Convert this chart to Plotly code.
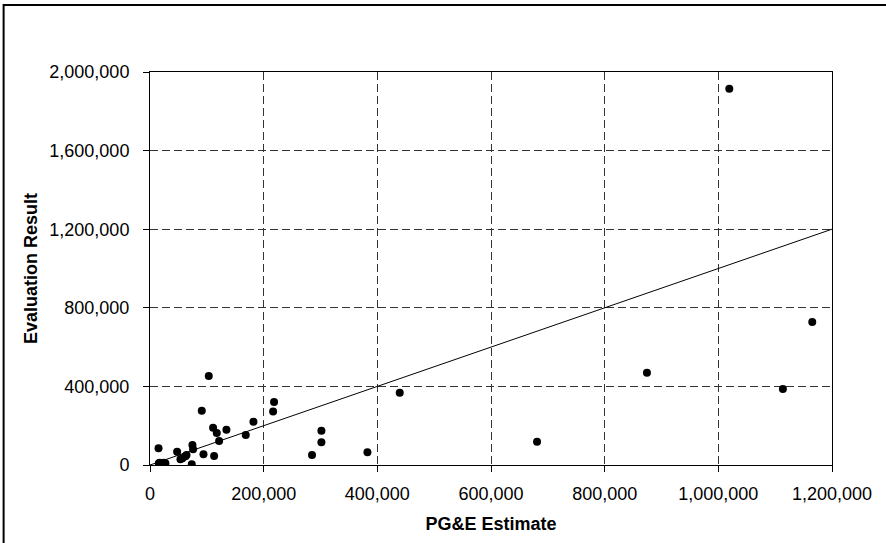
import plotly.graph_objects as go

pge_estimate = [1019300, 874400, 1113600, 1165300, 681000, 439400, 382600, 301600, 301600, 285100,
                218300, 216600, 182000, 168500, 134500, 121600, 117500, 111000, 112800, 103400,
                91100, 94100, 75800, 74700, 73500, 64200, 62400, 57100, 53600, 47700,
                15000, 15500, 17200, 24800, 27000]
evaluation_result = [1914600, 469100, 386300, 728300, 118400, 367500, 64500, 174400, 115300, 50800,
                     320200, 272900, 220100, 152500, 179400, 122000, 162600, 189600, 45700, 452300,
                     276000, 54400, 79800, 101700, 3500, 50800, 44000, 34000, 29000, 67600,
                     84800, 8600, 11700, 11700, 8600]

ref_x = [0, 1200000]
ref_y = [0, 1200000]

x_ticks = [0, 200000, 400000, 600000, 800000, 1000000, 1200000]
y_ticks = [0, 400000, 800000, 1200000, 1600000, 2000000]

FONT = "Liberation Sans, Arial"

fig = go.Figure()
fig.add_trace(go.Scatter(x=ref_x, y=ref_y, mode="lines",
                         line=dict(color="black", width=1), showlegend=False, hoverinfo="skip"))
fig.add_trace(go.Scatter(x=pge_estimate, y=evaluation_result, mode="markers",
                         marker=dict(color="black", size=8), showlegend=False))

axis_common = dict(
    showline=True, linecolor="black", linewidth=1, mirror=True,
    showgrid=True, gridcolor="#333333", griddash="8px,4px", gridwidth=1,
    ticks="outside", ticklen=6, tickcolor="black", tickwidth=1,
    tickfont=dict(family=FONT, size=18, color="black"),
    zeroline=False, tickformat=",d",
)

fig.update_xaxes(range=[0, 1200000], tickvals=x_ticks, ticklabelstandoff=6, **axis_common,
                 title=dict(text="<b>PG&E Estimate</b>", standoff=14,
                            font=dict(family=FONT, size=18, color="black")))
fig.update_yaxes(range=[0, 2000000], tickvals=y_ticks, ticklabelstandoff=10, **axis_common,
                 title=dict(text="<b>Evaluation Result</b>", standoff=7,
                            font=dict(family=FONT, size=18, color="black")))

l, r, t, b = 150, 53.5, 72, 78
pw = 886 - l - r
ph = 543 - t - b
x_left = (3.5 - l) / pw
y_top = 1 + (t - 5) / ph
fig.add_shape(type="path", xref="paper", yref="paper",
              path=f"M {x_left} -0.3 L {x_left} {y_top} L 1.3 {y_top}",
              line=dict(color="black", width=2))

fig.update_layout(
    width=886, height=543,
    margin=dict(l=l, r=r, t=t, b=b),
    paper_bgcolor="white", plot_bgcolor="white",
    font=dict(family=FONT, color="black"),
)

fig.write_html("out.html", config={"displayModeBar": False},
               post_script="document.body.style.margin='0';document.body.style.overflow='hidden';")
